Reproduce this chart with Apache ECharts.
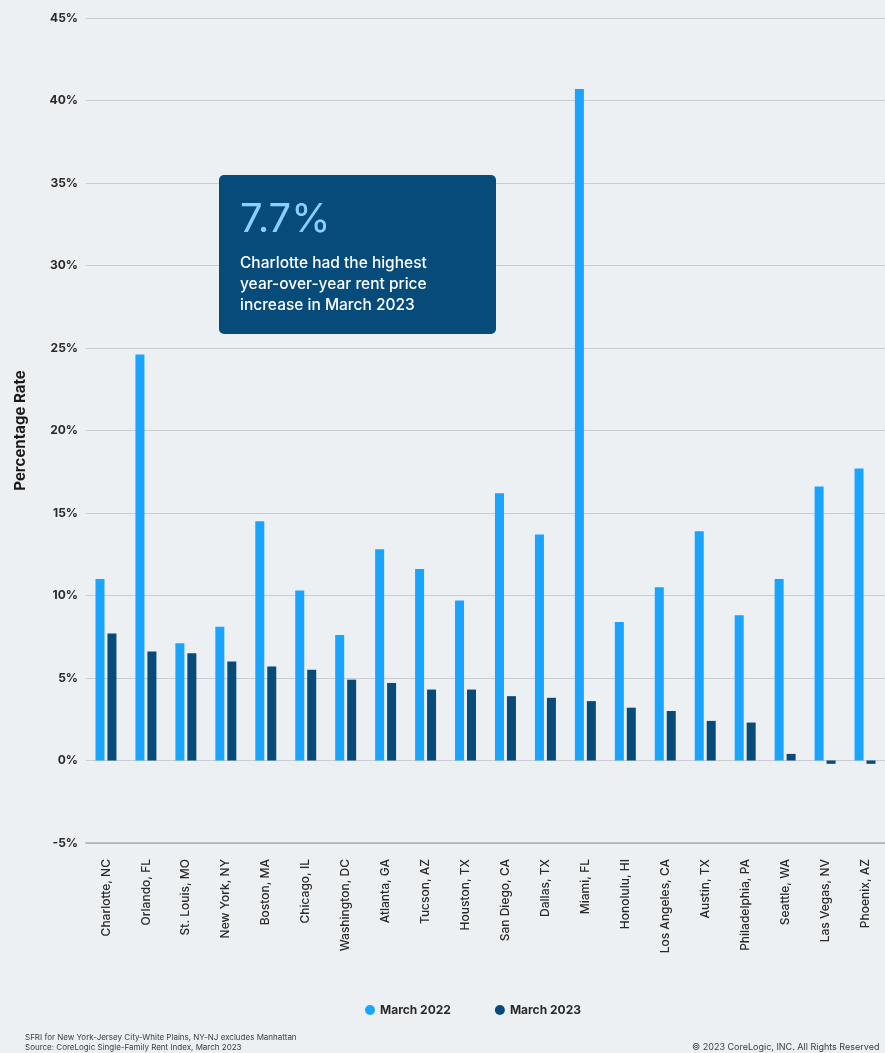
<!DOCTYPE html>
<html>
<head>
<meta charset="utf-8">
<script src="https://cdn.jsdelivr.net/npm/echarts@6/dist/echarts.min.js"></script>
<style>
html,body{margin:0;padding:0;background:#edf0f3;}
#chart{width:885px;height:1053px;}
</style>
</head>
<body>
<div id="chart"></div>
<script>
const categories = ["Charlotte, NC","Orlando, FL","St. Louis, MO","New York, NY","Boston, MA","Chicago, IL","Washington, DC","Atlanta, GA","Tucson, AZ","Houston, TX","San Diego, CA","Dallas, TX","Miami, FL","Honolulu, HI","Los Angeles, CA","Austin, TX","Philadelphia, PA","Seattle, WA","Las Vegas, NV","Phoenix, AZ"];
const march2022 = [11.0, 24.6, 7.1, 8.1, 14.5, 10.3, 7.6, 12.8, 11.6, 9.7, 16.2, 13.7, 40.7, 8.4, 10.5, 13.9, 8.8, 11.0, 16.6, 17.7];
const march2023 = [7.7, 6.6, 6.5, 6.0, 5.7, 5.5, 4.9, 4.7, 4.3, 4.3, 3.9, 3.8, 3.6, 3.2, 3.0, 2.4, 2.3, 0.4, -0.2, -0.2];
const seriesNames = ["March 2022", "March 2023"];
const yMin = -5, yMax = 45, yStep = 5;

const FONT = 'Inter, "Noto Sans", sans-serif';
const chart = echarts.init(document.getElementById('chart'), null, {renderer: 'canvas'});
chart.setOption({
  backgroundColor: '#edf0f3',
  animation: false,
  textStyle: {fontFamily: FONT},
  grid: {left: 86, top: 18, width: 804, bottom: 210, containLabel: false},
  legend: {
    data: seriesNames,
    top: 999,
    left: 360,
    icon: 'circle',
    itemWidth: 10,
    itemHeight: 10,
    itemGap: 44,
    textStyle: {fontFamily: FONT, fontWeight: 'bold', fontSize: 12, color: '#2a2a2a'}
  },
  xAxis: {
    type: 'category',
    data: categories,
    axisLine: {onZero: false, lineStyle: {color: '#a9adb2', width: 1.5}},
    axisTick: {show: false},
    axisLabel: {rotate: 90, margin: 16, fontSize: 12, color: '#2a2a2a', fontFamily: FONT, fontWeight: 500},
    splitLine: {show: false}
  },
  yAxis: {
    type: 'value',
    min: yMin,
    max: yMax,
    interval: yStep,
    name: 'Percentage Rate',
    nameLocation: 'middle',
    nameGap: 58,
    nameRotate: 90,
    nameTextStyle: {fontFamily: FONT, fontWeight: 'bold', fontSize: 15, color: '#1a1a1a'},
    axisLine: {show: false},
    axisTick: {show: false},
    axisLabel: {formatter: '{value}%', fontSize: 12, fontWeight: 'bold', color: '#2a2a2a', margin: 8, fontFamily: FONT},
    splitLine: {lineStyle: {color: '#c9ccd0', width: 1.2}}
  },
  series: [
    {name: seriesNames[0], type: 'bar', data: march2022, barWidth: 9, barGap: '33%', itemStyle: {color: '#18a4ff'}},
    {name: seriesNames[1], type: 'bar', data: march2023, barWidth: 9, itemStyle: {color: '#074b7b'}}
  ],
  graphic: [
    {
      type: 'group', left: 219, top: 175, z: 100,
      children: [
        {type: 'rect', z: 100, shape: {x: 0, y: 0, width: 277, height: 159, r: 5}, style: {fill: '#074b7b'}},
        {type: 'text', z: 101, x: 21, y: 25, style: {text: '7.7%', fill: '#8ccfff', font: '40px ' + FONT}},
        {type: 'text', z: 101, x: 21, y: 78, style: {text: 'Charlotte had the highest\nyear-over-year rent price\nincrease in March 2023', fill: '#ffffff', font: '500 15.5px ' + FONT, lineHeight: 21}}
      ]
    },
    {type: 'text', left: 25, top: 1033, style: {text: 'SFRI for New York-Jersey City-White Plains, NY-NJ excludes Manhattan\nSource: CoreLogic Single-Family Rent Index, March 2023', fill: '#3a3a3a', font: '8px ' + FONT, lineHeight: 10}},
    {type: 'text', left: 692, top: 1043, style: {text: '© 2023 CoreLogic, INC. All Rights Reserved', fill: '#3a3a3a', font: '9px ' + FONT}}
  ]
});
</script>
</body>
</html>
